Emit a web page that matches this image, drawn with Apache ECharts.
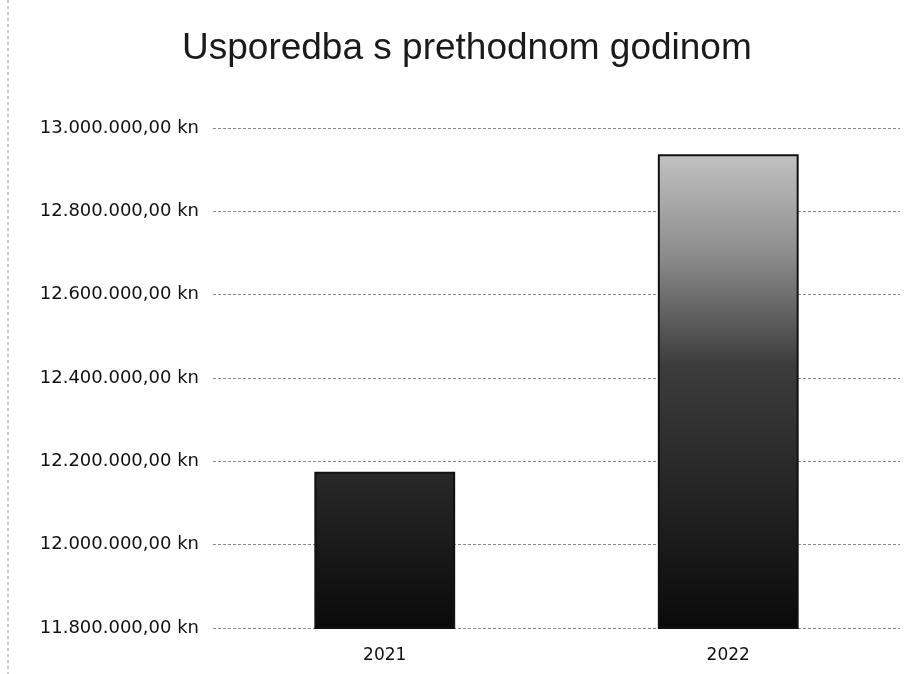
<!DOCTYPE html>
<html>
<head>
<meta charset="utf-8">
<title>Usporedba s prethodnom godinom</title>
<script src="https://cdn.jsdelivr.net/npm/echarts@6/dist/echarts.min.js"></script>
<style>
html,body{margin:0;padding:0;background:#fff;}
#chart{width:912px;height:674px;}
</style>
</head>
<body>
<div id="chart"></div>
<script>
// podaci
var godine = ['2021', '2022'];
var iznosi = [12175000, 12937000];
var yMin = 11800000;
var yMax = 13000000;
var yKorak = 200000;

// 12.800.000,00 kn
function formatKn(v){
	var s = Math.round(v).toString();
	s = s.replace(/\B(?=(\d{3})+(?!\d))/g, '.');
	return s + ',00 kn';
}

var myChart = echarts.init(document.getElementById('chart'));

// sivi prijelaz, isti za oba stupca (globalne koordinate)
var boja = new echarts.graphic.LinearGradient(0, 150, 0, 628, [
	{offset: 0, color: '#c4c4c4'},
	{offset: 0.22, color: '#8c8c8c'},
	{offset: 0.45, color: '#3c3c3c'},
	{offset: 0.7, color: '#262626'},
	{offset: 1, color: '#0a0a0a'}
], true);

var fontOsi = 'DejaVu Sans';

option = {
	backgroundColor: '#fff',
	title: {
		text: 'Usporedba s prethodnom godinom',
		left: 177,
		top: 25,
		textStyle: {
			fontFamily: 'Liberation Sans',
			fontSize: 37,
			fontWeight: 'normal',
			color: '#1a1a1a'
		}
	},
	grid: {
		left: 213,
		right: 12,
		top: 128,
		bottom: 46
	},
	xAxis: {
		type: 'category',
		data: godine,
		axisLine: {show: false},
		axisTick: {show: false},
		axisLabel: {
			margin: 19,
			fontFamily: fontOsi,
			fontSize: 17,
			color: '#111'
		}
	},
	yAxis: {
		type: 'value',
		min: yMin,
		max: yMax,
		interval: yKorak,
		axisLine: {show: false},
		axisTick: {show: false},
		axisLabel: {
			margin: 14,
			fontFamily: fontOsi,
			fontSize: 18,
			color: '#111',
			formatter: formatKn
		},
		splitLine: {
			lineStyle: {color: '#8a8a8a', type: [3, 2], width: 1}
		}
	},
	graphic: [
		{
			type: 'line',
			shape: {x1: 8, y1: 0, x2: 8, y2: 674},
			style: {stroke: '#9a9a9a', lineWidth: 1, lineDash: [3, 3]}
		}
	],
	series: [
		{
			name: 'Iznos',
			type: 'bar',
			data: iznosi,
			barWidth: '41%',
			itemStyle: {
				color: boja,
				borderColor: '#111',
				borderWidth: 2
			}
		}
	]
};
myChart.setOption(option);
</script>
</body>
</html>
